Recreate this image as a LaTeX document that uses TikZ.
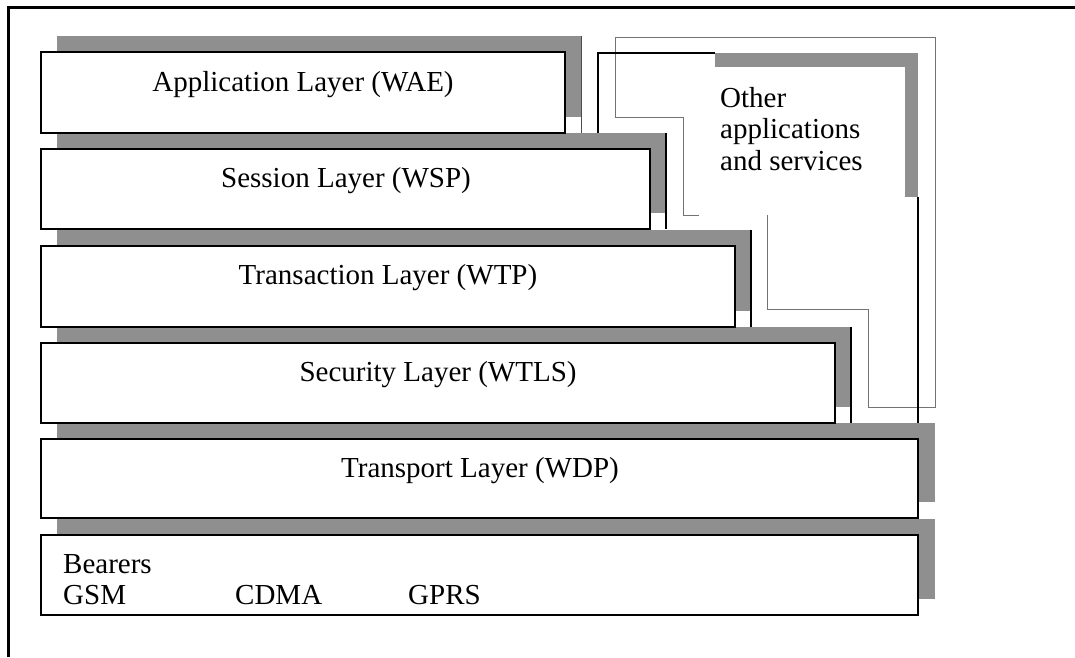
\documentclass[tikz,border=0pt]{standalone}
\usepackage{fontspec}
\setmainfont{Liberation Serif}
\begin{document}
\begin{tikzpicture}[x=1pt,y=-1pt,
  layerbox/.style={draw=black, line width=2.5pt, fill=white, inner sep=0pt, outer sep=0pt, anchor=north west},
  shadowband/.style={fill=black!44},
  edgeline/.style={draw=black, line width=1.6pt},
  thinline/.style={draw=black!55, line width=0.9pt},
  layertext/.style={font=\fontsize{29}{31.5}\selectfont, inner sep=0pt, anchor=base}]
\useasboundingbox (0,0) rectangle (1075,657);

% outer frame (top and left edges)
\draw[line width=3pt] (8,657) -- (8,7) -- (1075,7);

% thin outline around the other-applications column
\draw[thinline] (699,215) -- (683,215) -- (683,117) -- (615,117) -- (615,37)
  -- (935,37) -- (935,407) -- (868,407) -- (868,309) -- (767,309) -- (767,215);

% other-applications block: outline and shaded band
\fill[shadowband] (715,53) rectangle (918,67);
\fill[shadowband] (905,53) rectangle (918,197);
\draw[line width=2.2pt] (598,133) -- (598,53) -- (715,53);
\draw[line width=2.2pt] (918,197) -- (918,423);
\node[layertext, anchor=base west] (other)  at (720,107) {Other};
\node[layertext, anchor=base west] (otherb) at (720,138) {applications};
\node[layertext, anchor=base west] (otherc) at (720,170) {and services};

% shaded bands behind each layer (offset up and right)
\fill[shadowband] (57,36)  rectangle (581,117);
\fill[shadowband] (57,133) rectangle (666,213);
\fill[shadowband] (57,230) rectangle (751,311);
\fill[shadowband] (57,327) rectangle (851,407);
\fill[shadowband] (57,423) rectangle (935,502);
\fill[shadowband] (57,519) rectangle (935,599);

% right edges of the upper bands
\draw[draw=black!70, line width=1pt] (581,36) -- (581,133);
\draw[edgeline] (666,133) -- (666,229);
\draw[edgeline] (751,230) -- (751,327);
\draw[edgeline] (851,327) -- (851,423);

% layer boxes
\node[layerbox, minimum width=524pt, minimum height=81pt] (wae)  at (41,52)  {};
\node[layerbox, minimum width=609pt, minimum height=80pt] (wsp)  at (41,149) {};
\node[layerbox, minimum width=694pt, minimum height=81pt] (wtp)  at (41,246) {};
\node[layerbox, minimum width=794pt, minimum height=80pt] (wtls) at (41,343) {};
\node[layerbox, minimum width=877pt, minimum height=79pt] (wdp)  at (41,439) {};
\node[layerbox, minimum width=877pt, minimum height=80pt] (bear) at (41,535) {};

% layer names
\node[layertext] (waet)  at (303,91)  {Application Layer (WAE)};
\node[layertext] (wspt)  at (346,187) {Session Layer (WSP)};
\node[layertext] (wtpt)  at (388,284) {Transaction Layer (WTP)};
\node[layertext] (wtlst) at (438,381) {Security Layer (WTLS)};
\node[layertext] (wdpt)  at (480,477) {Transport Layer (WDP)};

% bearers
\node[layertext, anchor=base west] (beart) at (63,573)  {Bearers};
\node[layertext, anchor=base west] (gsm)   at (63,604)  {GSM};
\node[layertext, anchor=base west] (cdma)  at (235,604) {CDMA};
\node[layertext, anchor=base west] (gprs)  at (408,604) {GPRS};
\end{tikzpicture}
\end{document}
